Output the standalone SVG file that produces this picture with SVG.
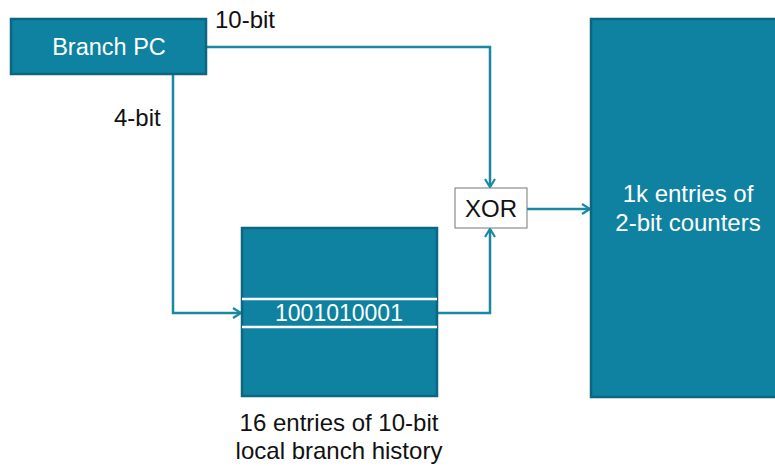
<svg xmlns="http://www.w3.org/2000/svg" width="775" height="466" viewBox="0 0 775 466">
<style>
.blk{fill:#0e82a0;stroke:#0b6680;stroke-width:2.5}
.wt{fill:#fff;font-family:"Liberation Sans",Arial,sans-serif;font-size:24px;text-anchor:middle}
.bk{fill:#111;font-family:"Liberation Sans",Arial,sans-serif;font-size:24px}
.ln{fill:none;stroke:#1a87a3;stroke-width:2.5}
</style>
<defs>
<marker id="ah" viewBox="0 0 12 12" refX="10" refY="6" markerWidth="12" markerHeight="12" markerUnits="userSpaceOnUse" orient="auto">
<path d="M2,1 L10,6 L2,11" fill="none" stroke="#1a87a3" stroke-width="2.2"/>
</marker>
</defs>
<g id="connectors">
<polyline class="ln" points="206,47 490,47 490,187" marker-end="url(#ah)"/>
<polyline class="ln" points="173,74 173,313 241,313" marker-end="url(#ah)"/>
<polyline class="ln" points="437,313 490,313 490,229" marker-end="url(#ah)"/>
<polyline class="ln" points="527,209 590,209" marker-end="url(#ah)"/>
</g>
<g id="branch-pc">
<rect class="blk" x="11" y="19" width="195" height="55"/>
<text class="wt" x="109" y="55" style="font-size:23.5px">Branch PC</text>
</g>
<g id="labels">
<text class="bk" x="215" y="28">10-bit</text>
<text class="bk" x="114" y="126">4-bit</text>
</g>
<g id="history">
<rect class="blk" x="242" y="228" width="195" height="168"/>
<line x1="242" y1="299" x2="437" y2="299" stroke="#fff" stroke-width="2.5"/>
<line x1="242" y1="327" x2="437" y2="327" stroke="#fff" stroke-width="2.5"/>
<text class="wt" x="339" y="321" style="font-size:23px">1001010001</text>
<text class="bk" x="339" y="431" text-anchor="middle">16 entries of 10-bit</text>
<text class="bk" x="339" y="459" text-anchor="middle">local branch history</text>
</g>
<g id="xor">
<rect x="455" y="188" width="72" height="40" fill="#fff" stroke="#777" stroke-width="1"/>
<text x="491" y="217" text-anchor="middle" font-family="'Liberation Sans',Arial,sans-serif" font-size="24" fill="#111">XOR</text>
</g>
<g id="counters">
<rect class="blk" x="591" y="19" width="190" height="378"/>
<text class="wt" x="688" y="202">1k entries of</text>
<text class="wt" x="688" y="231">2-bit counters</text>
</g>
</svg>
